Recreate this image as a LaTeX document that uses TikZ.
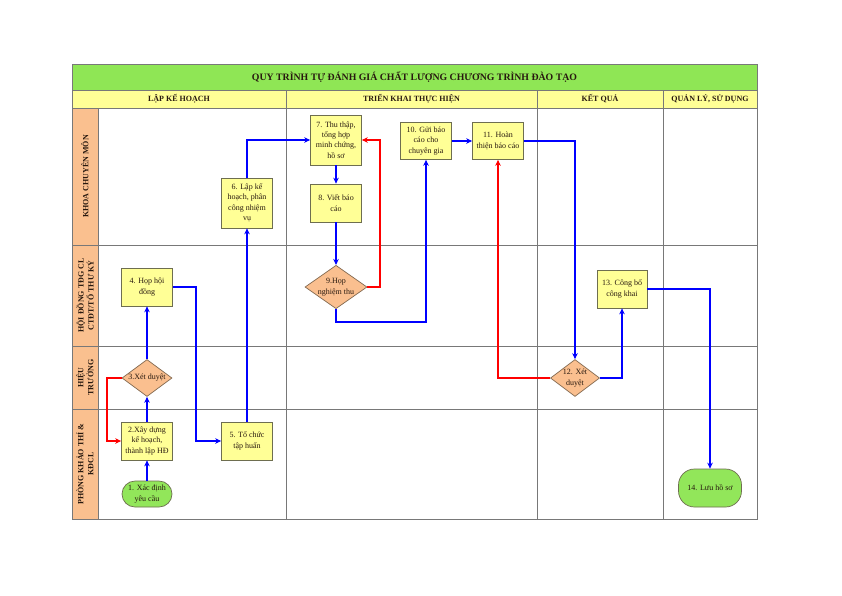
\documentclass[tikz,border=0pt]{standalone}
\usepackage{fontspec}
\setmainfont{Liberation Serif}
\usetikzlibrary{shapes.geometric,arrows.meta}
\definecolor{titlegreen}{RGB}{143,230,85}
\definecolor{headyellow}{RGB}{255,255,150}
\definecolor{laneorange}{RGB}{250,192,143}
\definecolor{boxyellow}{RGB}{255,255,150}
\definecolor{boxborder}{RGB}{110,110,80}
\definecolor{decorange}{RGB}{250,191,143}
\definecolor{decborder}{RGB}{130,105,80}
\definecolor{termgreen}{RGB}{146,230,90}
\definecolor{gridc}{RGB}{120,120,120}
\definecolor{txtc}{RGB}{40,25,15}
\definecolor{flowblue}{RGB}{0,0,255}
\definecolor{flowred}{RGB}{255,0,0}
\tikzset{
  nodetext/.style={font=\fontsize{8}{10.5}\selectfont, text=txtc, align=center},
  proc/.style={nodetext, rectangle, draw=boxborder, fill=boxyellow, line width=0.7pt,
    minimum width=51pt, minimum height=38pt, inner sep=1pt},
  dec/.style={nodetext, diamond, draw=decborder, fill=decorange, line width=0.7pt,
    inner sep=0pt, aspect=1.4},
  term/.style={nodetext, rectangle, draw=boxborder, fill=termgreen, line width=0.7pt,
    inner sep=1pt},
  lanelabel/.style={font=\bfseries\fontsize{8}{10}\selectfont, text=txtc, align=center, rotate=90},
  headtext/.style={font=\bfseries\fontsize{8}{10}\selectfont, text=txtc},
  gridline/.style={draw=gridc, line width=0.7pt},
  blueflow/.style={draw=flowblue, line width=1.9pt, -{Stealth[length=6pt,width=5.5pt]}},
  redflow/.style={draw=flowred, line width=1.9pt, -{Stealth[length=6pt,width=5.5pt]}}
}
\begin{document}
\begin{tikzpicture}[x=1pt,y=-1pt]
\useasboundingbox (0,0) rectangle (842,595);
\fill[white] (0,0) rectangle (842,595);
% title row
\filldraw[gridline, fill=titlegreen] (72,64) rectangle (757,90);
\node[font=\bfseries\fontsize{9.8}{12}\selectfont, text=txtc] (title) at (414.5,77.5)
  {QUY TRÌNH TỰ ĐÁNH GIÁ CHẤT LƯỢNG CHƯƠNG TRÌNH ĐÀO TẠO};
% header row
\filldraw[gridline, fill=headyellow] (72,90) rectangle (757,108);
\node[headtext] (h1) at (179,99) {LẬP KẾ HOẠCH};
\node[headtext] (h2) at (411.5,99) {TRIỂN KHAI THỰC HIỆN};
\node[headtext] (h3) at (600,99) {KẾT QUẢ};
\node[headtext] (h4) at (710,99) {QUẢN LÝ, SỬ DỤNG};
% lane label column
\filldraw[gridline, fill=laneorange] (72,108) rectangle (98,245);
\filldraw[gridline, fill=laneorange] (72,245) rectangle (98,346);
\filldraw[gridline, fill=laneorange] (72,346) rectangle (98,409);
\filldraw[gridline, fill=laneorange] (72,409) rectangle (98,519);
\node[lanelabel] (l1) at (85,176.5) {KHOA CHUYÊN MÔN};
\node[lanelabel] (l2) at (85,295.5) {HỘI ĐỒNG TĐG CL\\CTĐT/TỔ THƯ KÝ};
\node[lanelabel] (l3) at (85,377.5) {HIỆU\\TRƯỞNG};
\node[lanelabel] (l4) at (85,464) {PHÒNG KHẢO THÍ \&\\KĐCL};
% lane grid
\draw[gridline] (98,108) rectangle (757,519);
\draw[gridline] (98,245) -- (757,245);
\draw[gridline] (98,346) -- (757,346);
\draw[gridline] (98,409) -- (757,409);
\draw[gridline] (286,90) -- (286,519);
\draw[gridline] (537,90) -- (537,519);
\draw[gridline] (663,90) -- (663,519);
% nodes
\node[term, minimum width=50pt, minimum height=26pt, rounded corners=13pt] (n1) at (147,494) {1. Xác định\\yêu cầu};
\node[proc] (n2) at (147,441) {2.Xây dựng\\kế hoạch,\\thành lập HĐ};
\node[dec, minimum width=50pt, minimum height=37pt] (n3) at (147,378) {3.Xét duyệt};
\node[proc] (n4) at (147,287) {4. Họp hội\\đồng};
\node[proc] (n5) at (247,441) {5. Tổ chức\\tập huấn};
\node[proc, minimum height=50pt] (n6) at (247,203) {6. Lập kế\\hoạch, phân\\công nhiệm\\vụ};
\node[proc, minimum height=50pt] (n7) at (336,140) {7. Thu thập,\\tổng hợp\\minh chứng,\\hồ sơ};
\node[proc] (n8) at (336,203) {8. Viết báo\\cáo};
\node[dec, minimum width=62pt, minimum height=42pt] (n9) at (336,287) {9.Họp\\nghiệm thu};
\node[proc, minimum height=37pt] (n10) at (426,141) {10. Gửi báo\\cáo cho\\chuyên gia};
\node[proc, minimum height=37pt] (n11) at (498,141) {11. Hoàn\\thiện báo cáo};
\node[dec, minimum width=49pt, minimum height=37pt] (n12) at (575,378) {12. Xét\\duyệt};
\node[proc, minimum width=50pt] (n13) at (622,289) {13. Công bố\\công khai};
\node[term, minimum width=63pt, minimum height=38pt, rounded corners=16pt] (n14) at (710,488) {14. Lưu hồ sơ};
% connectors
\draw[blueflow] (n1) -- (n2);
\draw[blueflow] (n2) -- (n3);
\draw[blueflow] (n3) -- (n4);
\draw[redflow] (n3.west) -- ++(-15,0) |- (n2.west);
\draw[blueflow] (n4.east) -- ++(23,0) |- (n5.west);
\draw[blueflow] (n5) -- (n6);
\draw[blueflow] (n6.north) |- (n7.west);
\draw[blueflow] (n7) -- (n8);
\draw[blueflow] (n8) -- (n9);
\draw[redflow] (n9.east) -- ++(13,0) |- (n7.east);
\draw[blueflow] (n9.south) -- ++(0,13) -| (n10.south);
\draw[blueflow] (n10) -- (n11);
\draw[blueflow] (n11.east) -| (n12.north);
\draw[redflow] (n12.west) -| (n11.south);
\draw[blueflow] (n12.east) -| (n13.south);
\draw[blueflow] (n13.east) -| (n14.north);
\end{tikzpicture}
\end{document}
